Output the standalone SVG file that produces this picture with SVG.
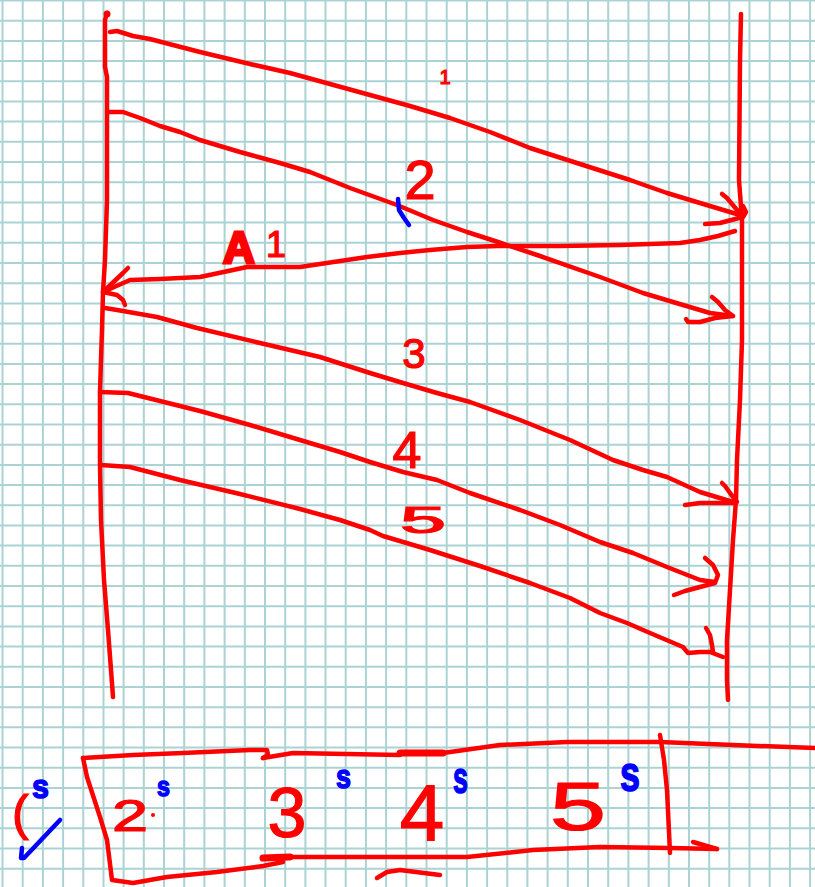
<svg xmlns="http://www.w3.org/2000/svg" width="815" height="887" viewBox="0 0 815 887">
<style>
.grid{stroke:#abd3d3;stroke-width:2;fill:none}
.r{stroke:#ff0000;stroke-width:4.5;fill:none;stroke-linecap:round;stroke-linejoin:round}
.rt{stroke:#ff0000;stroke-width:7;fill:none;stroke-linecap:round;stroke-linejoin:round}
.b{stroke:#0000ff;stroke-width:4.5;fill:none;stroke-linecap:round;stroke-linejoin:round}
.tr{fill:#ff0000;stroke:#ff0000;stroke-width:1.2;font-family:"Liberation Sans",Arial,sans-serif}
.tb{fill:#0000ff;stroke:#0000ff;stroke-width:1.5;font-family:"Liberation Sans",Arial,sans-serif;font-weight:bold}
</style>
<rect width="815" height="887" fill="#ffffff"/>
<g id="grid">
<path class="grid" d="M2.5 0V887M22.7 0V887M42.9 0V887M63.1 0V887M83.3 0V887M103.5 0V887M123.6 0V887M143.8 0V887M164 0V887M184.2 0V887M204.4 0V887M224.6 0V887M244.8 0V887M265 0V887M285.2 0V887M305.4 0V887M325.5 0V887M345.7 0V887M365.9 0V887M386.1 0V887M406.3 0V887M426.5 0V887M446.7 0V887M466.9 0V887M487.1 0V887M507.3 0V887M527.4 0V887M547.6 0V887M567.8 0V887M588 0V887M608.2 0V887M628.4 0V887M648.6 0V887M668.8 0V887M689 0V887M709.2 0V887M729.3 0V887M749.5 0V887M769.7 0V887M789.9 0V887M810.1 0V887"/>
<path class="grid" d="M0 0.5H815M0 20.7H815M0 40.9H815M0 61.1H815M0 81.3H815M0 101.5H815M0 121.6H815M0 141.8H815M0 162H815M0 182.2H815M0 202.4H815M0 222.6H815M0 242.8H815M0 263H815M0 283.2H815M0 303.4H815M0 323.5H815M0 343.7H815M0 363.9H815M0 384.1H815M0 404.3H815M0 424.5H815M0 444.7H815M0 464.9H815M0 485.1H815M0 505.3H815M0 525.4H815M0 545.6H815M0 565.8H815M0 586H815M0 606.2H815M0 626.4H815M0 646.6H815M0 666.8H815M0 687H815M0 707.2H815M0 727.3H815M0 747.5H815M0 767.7H815M0 787.9H815M0 808.1H815M0 828.3H815M0 848.5H815M0 868.7H815"/>
</g>
<g id="lifeline-left">
<polyline class="r" points="107,13 105,20 105,67 107,77 107,112 107,200 105,260 103,292 102,330 101,360 100,392 100,465 101,520 104,580 108,630 111,670 113,697"/>
<circle cx="107" cy="14" r="3.5" fill="#ff0000"/>
</g>
<g id="lifeline-right">
<polyline class="r" points="741,14 740,60 739,180 742,220 742,340 740,400 737,460 736,500 733,540 730,590 727,640 727,680 728,700"/>
</g>
<g id="connectors">
<g id="msg-1">
<polyline class="r" points="110,32 117,31 133,36 150,39 173,45 200,52 250,64 290,73 330,84 370,95 410,106 450,118 490,132 530,148 580,164 630,180 667,193 700,203 740,215"/>
<polyline class="r" points="722,194 727,198 737,210 743,217 746,212 743,206 739,212"/>
<polyline class="r" points="705,224 720,223 739,218"/>
</g>
<g id="msg-2">
<polyline class="r" points="107,112 123,112 140,118 160,126 180,132 200,140 240,152 280,163 310,172 350,188 397,205 433,220 467,232 498,242 540,256 600,277 643,293 683,305 710,313 733,316"/>
<polyline class="r" points="712,297 718,302 725,310 733,316 715,318 700,322 688,322 686,319"/>
</g>
<g id="msg-a1">
<polyline class="r" points="735,231 718,236 700,240 680,243 620,245 560,246 498,246 467,247 430,250 400,253 367,257 300,267 247,267 233,270 200,277 160,279 130,280 103,292"/>
<polyline class="r" points="128,268 123,273 103,292 117,295 123,300 125,305"/>
</g>
<g id="msg-3">
<polyline class="r" points="105,308 123,311 157,317 197,328 260,343 320,357 370,373 403,383 437,393 470,402 520,420 570,440 613,460 643,470 667,477 700,492 733,502"/>
<polyline class="r" points="722,483 725,486 730,493 737,502"/>
<polyline class="r" points="685,505 700,503 735,503"/>
</g>
<g id="msg-4">
<polyline class="r" points="100,392 128,393 160,401 200,411 250,425 300,440 340,452 370,462 403,472 437,480 470,493 520,510 560,525 600,542 633,553 667,567 700,580 715,582"/>
<polyline class="r" points="705,558 713,565 718,575 715,583 700,587 685,591 674,595"/>
</g>
<g id="msg-5">
<polyline class="r" points="101,465 130,467 180,480 240,494 300,509 340,520 370,530 383,536 430,550 480,566 530,583 570,598 600,613 627,623 650,633 683,647 688,653 700,652 710,652 723,657"/>
<polyline class="r" points="706,628 710,635 712,645 713,652"/>
</g>
</g>
<g id="labels">
<text class="tr" x="445" y="84" font-size="20" text-anchor="middle">1</text>
<text class="tr" x="420" y="199" font-size="56" text-anchor="middle">2</text>
<polyline class="b" points="398,199 399,210 404,218 409,225"/>
<text class="tr" y="263" font-size="44"><tspan x="223" font-weight="bold" stroke-width="3">A</tspan><tspan x="266" y="257" font-size="36">1</tspan></text>
<text class="tr" x="414" y="368" font-size="42" text-anchor="middle">3</text>
<text class="tr" x="407" y="468" font-size="52" text-anchor="middle">4</text>
<text class="tr" x="400" y="533" font-size="36" textLength="46" lengthAdjust="spacingAndGlyphs">5</text>
</g>
<g id="box">
<polyline class="r" points="83,758 133,755 183,753 250,750 267,750 268,755 263,758"/>
<polyline class="r" points="263,758 293,753 400,755"/>
<polyline class="rt" points="400,753 443,753"/>
<polyline class="r" points="443,753 500,745 567,742 660,742 733,745 815,748"/>
<polyline class="r" points="83,758 87,777 100,817 107,840 112,880 133,883 167,877 217,872 263,866 283,862"/>
<polyline class="rt" points="263,858 290,857"/>
<polyline class="r" points="290,857 400,857 467,857 533,850 600,847 670,848 717,849"/>
<polyline class="r" points="693,842 717,849"/>
<polyline class="r" points="660,735 664,760 667,790 670,853"/>
<polyline class="r" points="377,878 387,872 400,870 440,875"/>
</g>
<g id="box-items">
<text class="tr" x="112" y="831" font-size="44" textLength="36" lengthAdjust="spacingAndGlyphs">2</text>
<circle cx="153" cy="815" r="2" fill="#ff0000"/>
<text class="tr" x="287" y="837" font-size="70" text-anchor="middle">3</text>
<text class="tr" x="422" y="840" font-size="80" text-anchor="middle">4</text>
<text class="tr" x="550" y="830" font-size="68" textLength="56" lengthAdjust="spacingAndGlyphs">5</text>
<text class="tr" x="12" y="830" font-size="50">(</text>
<text class="tb" x="157" y="796" font-size="28" textLength="13" lengthAdjust="spacingAndGlyphs">s</text>
<text class="tb" x="336" y="788" font-size="34" textLength="15" lengthAdjust="spacingAndGlyphs">s</text>
<text class="tb" x="453" y="793" font-size="44" textLength="15" lengthAdjust="spacingAndGlyphs">s</text>
<text class="tb" x="620" y="791" font-size="50" textLength="20" lengthAdjust="spacingAndGlyphs">s</text>
<text class="tb" x="32" y="798" font-size="34" textLength="17" lengthAdjust="spacingAndGlyphs">s</text>
<polyline class="b" points="22,848 21,858 24,858 60,820"/>
</g>
</svg>
